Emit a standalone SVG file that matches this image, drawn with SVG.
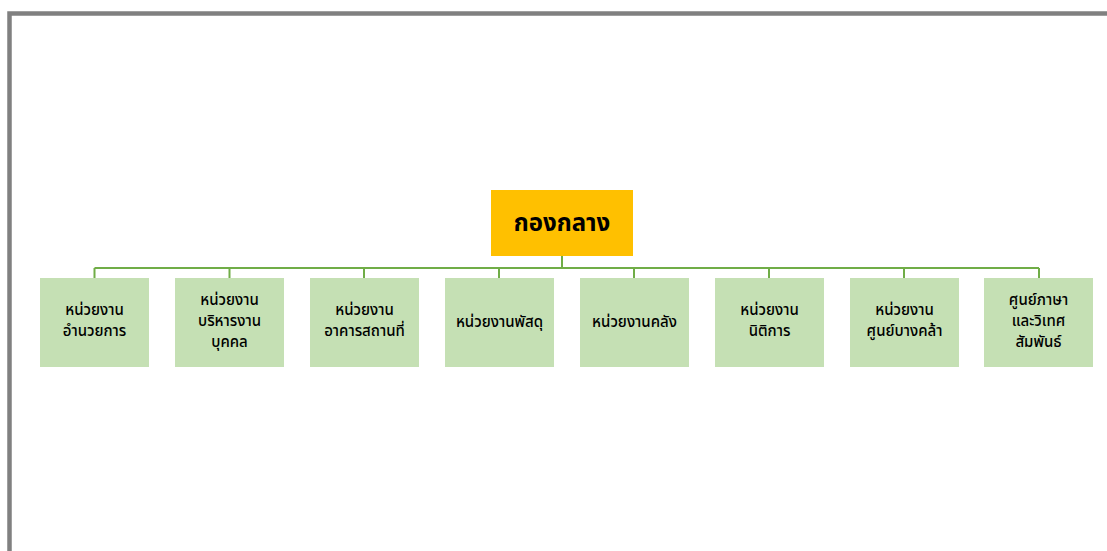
<svg xmlns="http://www.w3.org/2000/svg" width="1107" height="551" viewBox="0 0 1107 551">
<style>
.frame{fill:none;stroke:#808080;stroke-width:4.5}
.conn{fill:none;stroke:#70AD47;stroke-width:2}
.child rect{fill:#C5E0B4}
.child text{font-family:"Noto Sans Thai","Noto Sans","DejaVu Sans",sans-serif;font-size:15px;font-weight:500;fill:#000;text-anchor:middle;dominant-baseline:central}
.root rect{fill:#FFC000}
.root text{font-family:"Noto Sans Thai","Noto Sans","DejaVu Sans",sans-serif;font-size:24px;font-weight:bold;fill:#000;text-anchor:middle;dominant-baseline:central}
</style>
<rect width="1107" height="551" fill="#fff"/>
<path class="frame" d="M9.5 551 V13.5 H1107"/>
<g id="connectors" class="conn">
<path d="M562 256 V268 M94.5 268 H1039 M94.5 268 V278 M229.5 268 V278 M364 268 V278 M499 268 V278 M634 268 V278 M769 268 V278 M904 268 V278 M1039 268 V278"/>
</g>
<g id="root" class="root"><rect x="491" y="190" width="142" height="66"/><text x="562" y="224">กองกลาง</text></g>
<g id="n1" class="child"><rect x="40" y="278" width="109" height="89"/><text x="94.5" y="310.5">หน่วยงาน</text><text x="94.5" y="331.5">อำนวยการ</text></g>
<g id="n2" class="child"><rect x="175" y="278" width="109" height="89"/><text x="229.5" y="300">หน่วยงาน</text><text x="229.5" y="321">บริหารงาน</text><text x="229.5" y="342">บุคคล</text></g>
<g id="n3" class="child"><rect x="310" y="278" width="109" height="89"/><text x="364.5" y="310.5">หน่วยงาน</text><text x="364.5" y="331.5">อาคารสถานที่</text></g>
<g id="n4" class="child"><rect x="445" y="278" width="109" height="89"/><text x="499.5" y="322">หน่วยงานพัสดุ</text></g>
<g id="n5" class="child"><rect x="580" y="278" width="109" height="89"/><text x="634.5" y="322">หน่วยงานคลัง</text></g>
<g id="n6" class="child"><rect x="715" y="278" width="109" height="89"/><text x="769.5" y="310.5">หน่วยงาน</text><text x="769.5" y="331.5">นิติการ</text></g>
<g id="n7" class="child"><rect x="850" y="278" width="109" height="89"/><text x="904.5" y="310.5">หน่วยงาน</text><text x="904.5" y="331.5">ศูนย์บางคล้า</text></g>
<g id="n8" class="child"><rect x="984" y="278" width="109" height="89"/><text x="1038.5" y="300">ศูนย์ภาษา</text><text x="1038.5" y="321">และวิเทศ</text><text x="1038.5" y="342">สัมพันธ์</text></g>
</svg>
